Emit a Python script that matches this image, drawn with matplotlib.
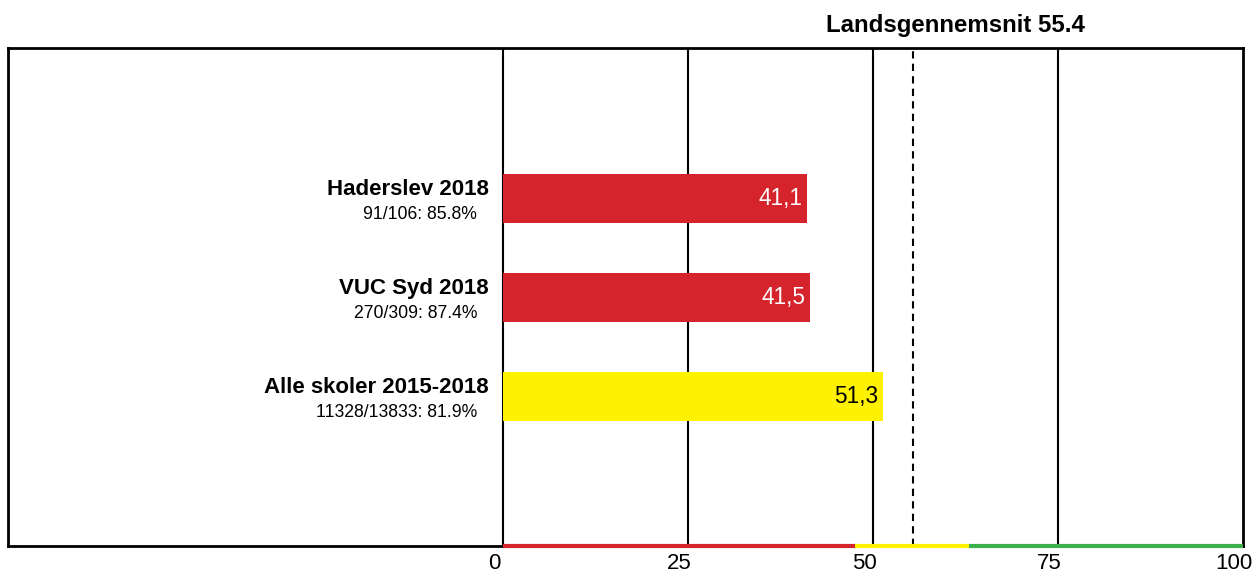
import matplotlib.pyplot as plt
import matplotlib.transforms as mtransforms

plt.rcParams['font.family'] = ['Liberation Sans', 'DejaVu Sans']

# data
labels = ["Haderslev 2018", "VUC Syd 2018", "Alle skoler 2015-2018"]
sublabels = ["91/106: 85.8%", "270/309: 87.4%", "11328/13833: 81.9%"]
values = [41.1, 41.5, 51.3]
value_text = ["41,1", "41,5", "51,3"]
bar_colors = ["#d5242b", "#d5242b", "#fff200"]
text_colors = ["white", "white", "black"]
national_avg = 55.4
ticks = [0, 25, 50, 75, 100]
# colour bands along the bottom axis
bands = [(0, 47.5, "#d5242b"), (47.5, 63, "#fff200"), (63, 100, "#3db04b")]

fig = plt.figure(figsize=(12.55, 5.76), dpi=100)
ax = fig.add_axes([8/1255, 30/576, 1235/1255, 498/576])

ax.set_xlim(-66.9, 100)
ax.set_ylim(3.51, -1.52)

ypos = list(range(len(values)))
ax.barh(ypos, values, height=0.495, color=bar_colors, zorder=2)

for t in ticks[:-1]:
    ax.axvline(t, color="black", lw=1.5, zorder=1)

ax.axvline(national_avg, color="black", lw=1.5, ls=(0, (3.5, 2.5)), zorder=3)

for y, v, s, tc in zip(ypos, values, value_text, text_colors):
    ax.text(v - 0.6, y, s, ha="right", va="center", fontsize=16.3, color=tc, zorder=4)

for y, lab, sub in zip(ypos, labels, sublabels):
    ax.text(-1.9, y - 0.095, lab, ha="right", va="center", fontsize=16,
            fontweight="bold")
    ax.text(-3.5, y + 0.16, sub, ha="right", va="center", fontsize=12.7)

for spine in ax.spines.values():
    spine.set_linewidth(2)

for x0, x1, c in bands:
    ax.plot([x0, x1], [3.51, 3.51], color=c, lw=3, solid_capstyle="butt",
            clip_on=False, zorder=5)

ax.set_yticks([])
ax.set_xticks(ticks)
ax.set_xticklabels([str(t) for t in ticks], fontsize=16)
ax.tick_params(axis="x", length=0, pad=5)
offset = mtransforms.ScaledTranslation(-9/100, 0, fig.dpi_scale_trans)
for lbl in ax.get_xticklabels():
    lbl.set_transform(lbl.get_transform() + offset)

fig.text(955/1255, 1 - 32/576, "Landsgennemsnit 55.4", ha="center",
         va="baseline", fontsize=17.3, fontweight="bold")

fig.savefig("out.png", dpi=100)
